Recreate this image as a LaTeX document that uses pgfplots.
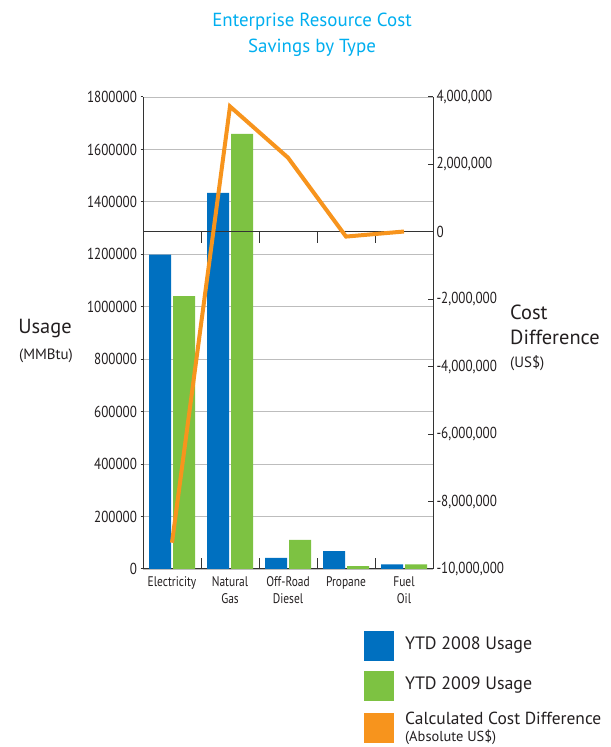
\documentclass[border=0pt]{standalone}
\usepackage{pgfplots}
\pgfplotsset{compat=1.18}
\usepackage{fontspec}
\setmainfont{PT Sans}
\newfontfamily\condensed{PT Sans}[FakeStretch=0.82]
\definecolor{barblue}{HTML}{0070C0}
\definecolor{bargreen}{HTML}{7DC242}
\definecolor{lineorange}{HTML}{F7941D}
\definecolor{titlecyan}{HTML}{00AEEF}
\definecolor{gridgray}{HTML}{BDBDBD}
\definecolor{axisgray}{HTML}{333333}
\definecolor{txt}{HTML}{231F20}
\begin{document}
\begin{tikzpicture}
\path[use as bounding box] (0bp,0bp) rectangle (611bp,747bp);
% bars (left axis)
\begin{axis}[
  at={(143bp,178bp)}, anchor=south west,
  scale only axis, width=290bp, height=472bp,
  xmin=-0.5, xmax=4.5, ymin=0, ymax=1800000,
  axis x line*=bottom, axis y line*=left,
  axis line style={axisgray, line width=1bp, -},
  xtick={0,1,2,3,4},
  xticklabels={Electricity,{Natural\\Gas},{Off-Road\\Diesel},Propane,{Fuel\\Oil}},
  x tick style={draw=none},
  xticklabel style={font=\condensed\fontsize{14}{17}\selectfont, align=center, text=txt, yshift=-2bp},
  ytick={0,200000,...,1800000},
  y tick style={axisgray, line width=1bp},
  tick align=outside, major tick length=2.5bp,
  ymajorgrids, grid style={gridgray, line width=0.9bp},
  scaled y ticks=false,
  yticklabel style={font=\condensed\fontsize{16}{18}\selectfont, text=txt, /pgf/number format/.cd, fixed, 1000 sep={}},
  /pgf/number format/assume math mode=true,
  ybar, bar width=22bp,
]
\addplot[fill=barblue, draw=none, bar shift=-12bp] coordinates {(0,1199000) (1,1434000) (2,42000) (3,68000) (4,18000)};
\addplot[fill=bargreen, draw=none, bar shift=12bp] coordinates {(0,1041000) (1,1659000) (2,111000) (3,11000) (4,18000)};
\draw[axisgray, line width=1bp] (axis cs:0.5,0) -- (axis cs:0.5,42000);
\draw[axisgray, line width=1bp] (axis cs:1.5,0) -- (axis cs:1.5,42000);
\draw[axisgray, line width=1bp] (axis cs:2.5,0) -- (axis cs:2.5,42000);
\draw[axisgray, line width=1bp] (axis cs:3.5,0) -- (axis cs:3.5,42000);
\end{axis}
% line (right axis)
\begin{axis}[
  at={(143bp,178bp)}, anchor=south west,
  scale only axis, width=290bp, height=472bp,
  xmin=-0.5, xmax=4.5, ymin=-10000000, ymax=4000000,
  axis y line*=right, axis x line=none,
  axis line style={axisgray, line width=1bp, -},
  ytick={-10000000,-8000000,...,4000000},
  y tick style={axisgray, line width=1bp},
  tick align=inside, major tick length=5bp,
  scaled y ticks=false,
  yticklabel style={font=\condensed\fontsize{16}{18}\selectfont, text=txt, /pgf/number format/.cd, fixed, 1000 sep={,}},
  /pgf/number format/assume math mode=true,
  clip=false,
]
\draw[axisgray, line width=1bp] (axis cs:-0.5,0) -- (axis cs:4.5,0);
\draw[axisgray, line width=1bp] (axis cs:0.5,0) -- (axis cs:0.5,-326000);
\draw[axisgray, line width=1bp] (axis cs:1.5,0) -- (axis cs:1.5,-326000);
\draw[axisgray, line width=1bp] (axis cs:2.5,0) -- (axis cs:2.5,-326000);
\draw[axisgray, line width=1bp] (axis cs:3.5,0) -- (axis cs:3.5,-326000);
\addplot[lineorange, line width=4bp, line join=miter, mark=none] coordinates {(0,-9220000) (1,3720000) (2,2200000) (3,-140000) (4,10000)};
\end{axis}
% title
\node[align=center, text=titlecyan, font=\fontsize{19}{26}\selectfont] at (312bp,712bp) {Enterprise Resource Cost\\Savings by Type};
% left label
\node[text=txt, font=\fontsize{20.5}{22}\selectfont] at (45bp,418bp) {Usage};
\node[text=txt, font=\fontsize{15}{17}\selectfont] at (46bp,391bp) {(MMBtu)};
% right label
\node[text=txt, anchor=west, font=\fontsize{20.5}{22}\selectfont, inner sep=0pt] at (510bp,435bp) {Cost};
\node[text=txt, anchor=west, font=\fontsize{20.5}{22}\selectfont, inner sep=0pt] at (510bp,410bp) {Difference};
\node[text=txt, anchor=west, font=\fontsize{15}{17}\selectfont, inner sep=0pt] at (510bp,384bp) {(US\$)};
% legend
\fill[barblue] (364bp,86bp) rectangle (394bp,116bp);
\fill[bargreen] (364bp,46bp) rectangle (394bp,76bp);
\fill[lineorange] (364bp,4bp) rectangle (394bp,34bp);
\node[text=txt, anchor=west, inner sep=0pt, font=\fontsize{18}{20}\selectfont] at (405bp,102bp) {YTD 2008 Usage};
\node[text=txt, anchor=west, inner sep=0pt, font=\fontsize{18}{20}\selectfont] at (405bp,62bp) {YTD 2009 Usage};
\node[text=txt, anchor=west, inner sep=0pt, font=\fontsize{17.5}{20}\selectfont] at (405bp,29bp) {Calculated Cost Difference};
\node[text=txt, anchor=west, inner sep=0pt, font=\fontsize{14.5}{16}\selectfont] at (405bp,10bp) {(Absolute US\$)};
\end{tikzpicture}
\end{document}
